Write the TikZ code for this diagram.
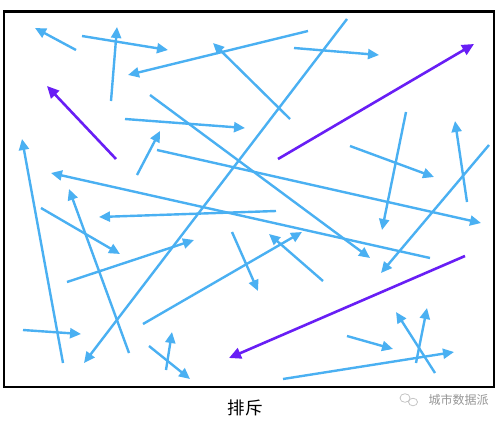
\documentclass[tikz,border=0pt]{standalone}
\usepackage{fontspec}
\newfontfamily\cjk{Noto Sans CJK SC}
\usetikzlibrary{arrows.meta}
\definecolor{sky}{RGB}{74,176,242}
\definecolor{vio}{RGB}{104,30,245}
\definecolor{wm}{RGB}{150,150,150}
\tikzset{
  ar/.style={draw=sky, line width=2.4pt, -{Triangle[length=11pt,width=10pt]}},
  pa/.style={draw=vio, line width=2.6pt, -{Triangle[length=12pt,width=11pt]}},
}
\begin{document}
\begin{tikzpicture}[x=1pt,y=-1pt]
\useasboundingbox (0,0) rectangle (502,420);
\fill[white] (0,0) rectangle (502,420);
\node[draw=black, line width=2.6pt, minimum width=490pt, minimum height=375pt, inner sep=0pt, anchor=north west] (frame) at (2.5,10.5) {};
% blue arrows
\coordinate (a1s) at (76,50);   \coordinate (a1e) at (35,28);
\coordinate (a2s) at (82,36);   \coordinate (a2e) at (168,50);
\coordinate (a3s) at (111,101); \coordinate (a3e) at (117,27);
\coordinate (a4s) at (308,31);  \coordinate (a4e) at (128,75);
\coordinate (a5s) at (290,119); \coordinate (a5e) at (213,43);
\coordinate (a6s) at (150,95);  \coordinate (a6e) at (370,258);
\coordinate (a8s) at (125,119); \coordinate (a8e) at (245,128);
\coordinate (a9s) at (137,175); \coordinate (a9e) at (160,131);
\coordinate (a10s) at (157,150); \coordinate (a10e) at (481,223);
\coordinate (a11s) at (63,363); \coordinate (a11e) at (22,139);
\coordinate (a12s) at (430,258); \coordinate (a12e) at (51,173);
\coordinate (a13s) at (129,353); \coordinate (a13e) at (69,189);
\coordinate (a14s) at (276,211); \coordinate (a14e) at (99,217);
\coordinate (a15s) at (41,208); \coordinate (a15e) at (120,254);
\coordinate (a16s) at (67,282); \coordinate (a16e) at (194,240);
\coordinate (a17s) at (347,19); \coordinate (a17e) at (84,363);
\coordinate (a18s) at (23,330); \coordinate (a18e) at (81,334);
\coordinate (a19s) at (143,324); \coordinate (a19e) at (302,232);
\coordinate (a20s) at (232,232); \coordinate (a20e) at (258,291);
\coordinate (a21s) at (323,281); \coordinate (a21e) at (269,234);
\coordinate (a22s) at (149,346); \coordinate (a22e) at (190,379);
\coordinate (a23s) at (166,370); \coordinate (a23e) at (172,332);
\coordinate (a25s) at (347,336); \coordinate (a25e) at (393,349);
\coordinate (a26s) at (435,373); \coordinate (a26e) at (396,312);
\coordinate (a27s) at (416,363); \coordinate (a27e) at (427,308);
\coordinate (a28s) at (283,379); \coordinate (a28e) at (454,352);
\coordinate (a29s) at (294,48);  \coordinate (a29e) at (379,55);
\coordinate (a31s) at (350,146); \coordinate (a31e) at (434,177);
\coordinate (a32s) at (406,112); \coordinate (a32e) at (382,230);
\coordinate (a33s) at (467,202); \coordinate (a33e) at (455,121);
\coordinate (a34s) at (489,145); \coordinate (a34e) at (381,273);
\foreach \i in {1,2,3,4,5,6,8,9,10,11,12,13,14,15,16,17,18,19,20,21,22,23,25,26,27,28,29,31,32,33,34}
  \draw[ar] (a\i s) -- (a\i e);
% purple arrows
\coordinate (p1s) at (116,159); \coordinate (p1e) at (47,86);
\coordinate (p2s) at (278,159); \coordinate (p2e) at (474,44);
\coordinate (p3s) at (465,256); \coordinate (p3e) at (229,358);
\draw[pa] (p1s) -- (p1e);
\draw[pa] (p2s) -- (p2e);
\draw[pa] (p3s) -- (p3e);
% caption
\node[font=\cjk\fontsize{17.5}{18}\selectfont] (cap) at (245,408) {排斥};
% watermark
\node[font=\cjk\fontsize{12}{12}\selectfont, text=wm, anchor=west] (wmt) at (425,400) {城市数据派};
\draw[wm!60, line width=0.7pt] (405,398) ellipse (5pt and 4.3pt);
\draw[wm!60, line width=0.7pt, fill=white] (413,402) ellipse (4.5pt and 3.8pt);
\end{tikzpicture}
\end{document}
